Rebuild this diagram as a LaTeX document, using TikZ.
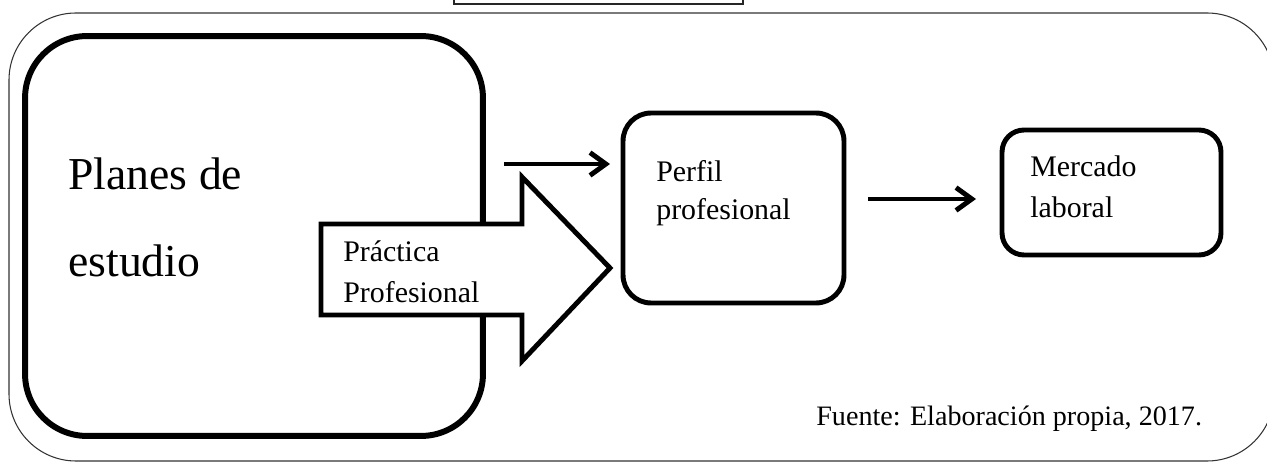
\documentclass[tikz,border=0pt]{standalone}
\usepackage{fontspec}
\setmainfont{Liberation Serif}
\usetikzlibrary{arrows.meta}
\begin{document}
\begin{tikzpicture}[x=0.02cm, y=-0.02cm,
  caja/.style={draw, line width=2.8pt, rounded corners=0.56cm, inner sep=0pt},
  texto/.style={anchor=base west, inner sep=0pt, font=\fontsize{17}{20}\selectfont},
  flecha/.style={line width=2.8pt, -{Straight Barb[length=9pt,width=13pt]}}]
\useasboundingbox (0,0) rectangle (1267,462);
\clip (0,0) rectangle (1267,462);
% marco exterior y recuadro de arriba
\draw[line width=0.6pt, black!80, rounded corners=1.34cm] (9,13) rectangle (1274,461);
\draw[line width=0.8pt, black!85] (454,-20) rectangle (743,4);
\node[caja, line width=3.4pt, rounded corners=1.24cm, minimum width=9.16cm, minimum height=8cm] (planes) at (254,236) {};
\node[texto, font=\fontsize{26}{30}\selectfont] (planes1) at (68,190) {Planes de};
\node[texto, font=\fontsize{26}{30}\selectfont] (planes2) at (68,277) {estudio};
% flecha grande
\draw[line width=2.8pt, fill=white] (321,224) -- (522,224) -- (522,177) -- (610,268) -- (522,361) -- (522,315) -- (321,315) -- cycle;
\node[texto] (practica1) at (343,262) {Práctica};
\node[texto] (practica2) at (343,303) {Profesional};
\node[caja, minimum width=4.42cm, minimum height=3.8cm] (perfil) at (733.5,208) {};
\node[texto] (perfil1) at (656,182) {Perfil};
\node[texto] (perfil2) at (656,220) {profesional};
\node[caja, rounded corners=0.44cm, minimum width=4.38cm, minimum height=2.5cm] (mercado) at (1111.5,192.5) {};
\node[texto] (mercado1) at (1030,177) {Mercado};
\node[texto] (mercado2) at (1030,218) {laboral};
\node[texto, font=\fontsize{16}{20}\selectfont] (fuente) at (816,425) {Fuente: Elaboración propia, 2017.};
\coordinate (ini1) at (504,164);
\coordinate (ini2) at (868,199);
\draw[flecha, shorten >=6pt] (ini1) -- (ini1 -| perfil.west);
\draw[flecha, shorten >=13.4pt] (ini2) -- (ini2 -| mercado.west);
\end{tikzpicture}
\end{document}
